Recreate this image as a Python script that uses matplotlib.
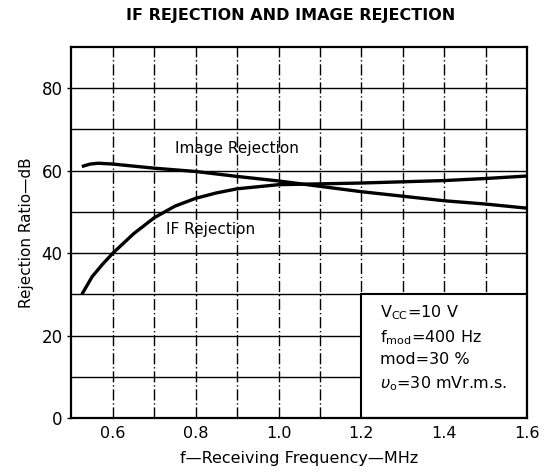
import matplotlib
matplotlib.use("Agg")
import matplotlib.pyplot as plt
from matplotlib.patches import Rectangle
import numpy as np

# Data
freq_if = [0.525, 0.55, 0.575, 0.6, 0.65, 0.7, 0.75, 0.8, 0.85, 0.9, 1.0, 1.1, 1.2, 1.3, 1.4, 1.5, 1.6]
if_rej = [30.0, 34.3, 37.3, 40.0, 44.7, 48.6, 51.4, 53.3, 54.6, 55.6, 56.6, 56.8, 57.0, 57.3, 57.6, 58.1, 58.7]
freq_img = [0.525, 0.545, 0.565, 0.6, 0.7, 0.8, 0.9, 1.0, 1.1, 1.2, 1.3, 1.4, 1.5, 1.6]
img_rej = [61.0, 61.6, 61.8, 61.6, 60.6, 59.8, 58.6, 57.5, 56.2, 54.9, 53.8, 52.7, 51.9, 50.9]

x_ticks = [0.6, 0.8, 1.0, 1.2, 1.4, 1.6]
x_ticklabels = ["0.6", "0.8", "1.0", "1.2", "1.4", "1.6"]
y_ticks = [0, 20, 40, 60, 80]
v_grid = [0.6, 0.7, 0.8, 0.9, 1.0, 1.1, 1.2, 1.3, 1.4, 1.5]
h_grid = [10, 20, 30, 40, 50, 60, 70, 80]

title = "IF REJECTION AND IMAGE REJECTION"
xlabel = "f\u2014Receiving Frequency\u2014MHz"
ylabel = "Rejection Ratio\u2014dB"
cond_lines = [r"V$_{\rm CC}$=10 V", r"f$_{\rm mod}$=400 Hz", r"mod=30 %",
              r"$\upsilon_{\rm o}$=30 mVr.m.s."]

plt.rcParams['font.family'] = ['DejaVu Sans']
fig = plt.figure(figsize=(5.49, 4.76), dpi=100)
ax = fig.add_axes([0.1302, 0.1218, 0.8298, 0.7795])
ax.set_xlim(0.5, 1.6)
ax.set_ylim(0, 90)

for v in v_grid:
    ax.axvline(v, color='black', lw=1.0, ls=(0, (8, 2, 1, 2)), zorder=1)
for h in h_grid:
    ax.axhline(h, color='black', lw=1.0, zorder=1)

# Conditions box (covers grid in lower right)
box = Rectangle((1.2, 0), 0.4, 30, facecolor='white', edgecolor='black', lw=1.5, zorder=2)
ax.add_patch(box)
ys = [25.6, 19.5, 14.1, 8.3]
for t, yv in zip(cond_lines, ys):
    ax.text(1.245, yv, t, fontsize=11.5, va='center', ha='left', zorder=3)

ax.plot(freq_if, if_rej, color='black', lw=2.4, zorder=4, solid_capstyle='butt')
ax.plot(freq_img, img_rej, color='black', lw=2.4, zorder=4, solid_capstyle='butt')

ax.text(0.9, 65.3, "Image Rejection", fontsize=11, ha='center', va='center', zorder=5)
ax.text(0.835, 45.8, "IF Rejection", fontsize=11, ha='center', va='center', zorder=5)

ax.set_xticks(x_ticks)
ax.set_xticklabels(x_ticklabels)
ax.set_yticks(y_ticks)
ax.tick_params(axis='y', direction='out', length=3, width=1, labelsize=12)
ax.tick_params(axis='x', length=0, pad=6, labelsize=11.5)
for s in ax.spines.values():
    s.set_linewidth(1.6)

ax.set_xlabel(xlabel, fontsize=11.5, labelpad=7)
ax.set_ylabel(ylabel, fontsize=11, labelpad=5)
fig.text(0.53, 0.968, title, fontsize=11.5, fontweight='bold', ha='center', va='center')

fig.savefig("out.png", dpi=100)
